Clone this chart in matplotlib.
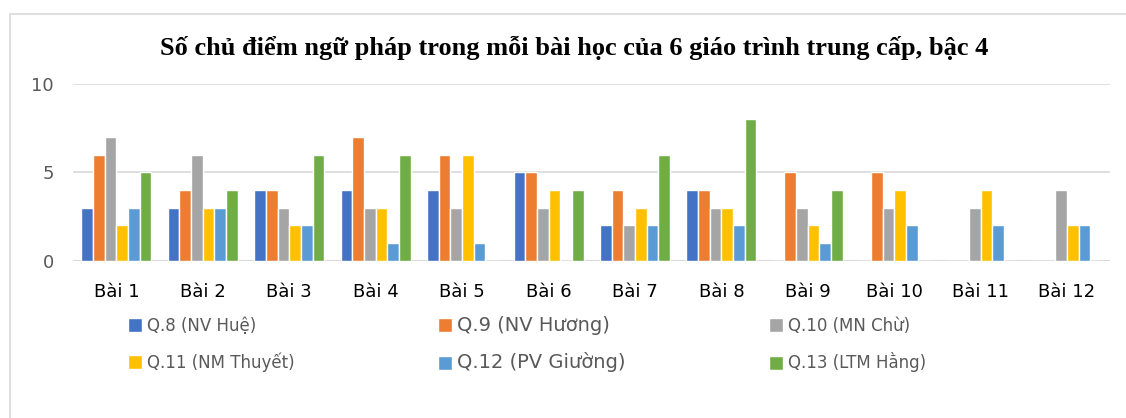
import numpy as np
import matplotlib.pyplot as plt
from matplotlib.patches import Rectangle

# du lieu
bai = ['Bài 1', 'Bài 2', 'Bài 3', 'Bài 4', 'Bài 5', 'Bài 6',
       'Bài 7', 'Bài 8', 'Bài 9', 'Bài 10', 'Bài 11', 'Bài 12']
q8 = [3, 3, 4, 4, 4, 5, 2, 4, 0, 0, 0, 0]
q9 = [6, 4, 4, 7, 6, 5, 4, 4, 5, 5, 0, 0]
q10 = [7, 6, 3, 3, 3, 3, 2, 3, 3, 3, 3, 4]
q11 = [2, 3, 2, 3, 6, 4, 3, 3, 2, 4, 4, 2]
q12 = [3, 3, 2, 1, 1, 0, 2, 2, 1, 2, 2, 2]
q13 = [5, 4, 6, 6, 0, 4, 6, 8, 4, 0, 0, 0]
ten = ['Q.8 (NV Huệ)', 'Q.9 (NV Hương)', 'Q.10 (MN Chừ)',
       'Q.11 (NM Thuyết)', 'Q.12 (PV Giường)', 'Q.13 (LTM Hằng)']
mau = ['#4472C4', '#ED7D31', '#A5A5A5', '#FFC000', '#5B9BD5', '#70AD47']

fig = plt.figure(figsize=(11.26, 4.18), dpi=100)
ax = fig.add_axes([0.065, 0.376, 0.921, 0.423])

# khung bieu do
fig.patches.append(Rectangle((0.009, -0.1), 1.1, 1.066, transform=fig.transFigure,
                             fill=False, edgecolor='#D9D9D9', linewidth=1.2))

x = np.arange(len(bai))
buoc = 0.135
handles = []
for i, (vals, c) in enumerate(zip([q8, q9, q10, q11, q12, q13], mau)):
    b = ax.bar(x + (i - 2.5) * buoc, vals, width=buoc, color=c,
               edgecolor='white', linewidth=1.0, zorder=3)
    handles.append(b)

ax.set_xlim(-0.5, len(bai) - 0.5)
ax.set_ylim(0, 10)
ax.set_yticks([0, 5, 10])
ax.yaxis.grid(True, color='#D9D9D9', linewidth=1.2, zorder=0)
for s in ax.spines.values():
    s.set_visible(False)
ax.axhline(0, color='#D9D9D9', linewidth=1.5, zorder=2)
ax.tick_params(axis='both', length=0)
ax.tick_params(axis='y', labelsize=13, labelcolor='#595959', pad=14)
ax.set_xticks(x)
ax.set_xticklabels(bai, fontsize=13, color='black')
ax.tick_params(axis='x', pad=16)

fig.text(0.51, 0.885, 'Số chủ điểm ngữ pháp trong mỗi bài học của 6 giáo trình trung cấp, bậc 4',
         ha='center', va='center', fontsize=19, fontweight='bold',
         family='Liberation Serif')

# legend xep theo hang (matplotlib xep theo cot)
thu_tu = [0, 3, 1, 4, 2, 5]
leg = fig.legend([handles[k] for k in thu_tu], [ten[k] for k in thu_tu],
                 ncol=3, loc='upper left',
                 bbox_to_anchor=(0.1, 0.28), frameon=False,
                 fontsize=12, handlelength=0.85, handleheight=0.95,
                 handletextpad=0.3, columnspacing=8.6, labelspacing=1.05)
for t in leg.get_texts():
    t.set_color('#595959')
    if t.get_text().startswith('Q.9') or t.get_text().startswith('Q.12'):
        t.set_fontsize(14)

fig.savefig('out.png', dpi=100)
